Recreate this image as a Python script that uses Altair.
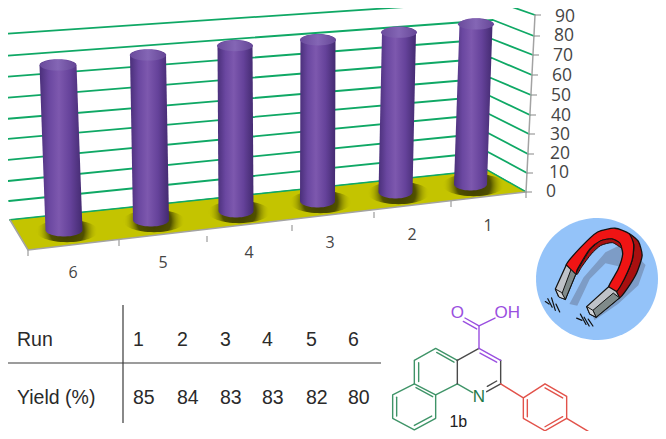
import altair as alt
import numpy as np
import pandas as pd

# ---- chart values
runs = [1, 2, 3, 4, 5, 6]
yields = [85, 84, 83, 83, 82, 80]
grid_values = [0, 10, 20, 30, 40, 50, 60, 70, 80, 90]

# ---- layout (perspective of the 3-D chart)
base_x = [470.5, 395.5, 317.5, 236, 151, 64]
base_y = [184, 192, 201, 211, 220, 230]
top_lean = [5.5, 3.5, 0.5, -1, -3, -6]
px_per_unit = [1.88, 1.90, 1.94, 1.99, 2.01, 2.06]
half_w = [16.5, 17, 17.5, 17.5, 18, 18.5]
label_x = [488, 412, 330, 249, 163, 73]
label_y = [226, 235, 243, 253, 263, 273]
tick_x = [526, 451, 374, 292, 207, 119, 28]
tick_y = [192, 201, 212, 225, 236, 240, 250]
grid_left_x = [10, 9, 8, 7, 6, 5, 4, 3, 2, 1]
grid_left_y = [220, 201, 181, 160, 139, 119, 98, 77, 56, 34]
grid_back_x = [487, 488, 488, 489, 490, 491, 492, 492, 493, 495]
grid_back_y = [170, 152, 133, 114, 96, 78, 58, 39, 20, 1]
grid_front_x = [526, 527, 528, 529, 530, 531, 532, 533, 534, 535]
grid_front_y = [192, 173, 154, 134, 115, 95, 75, 55, 36, 15]
ylab_x = [546, 549, 550, 550, 551, 551, 552, 553, 554, 555]
ylab_y = [192, 173, 154, 135, 116, 96, 76, 56, 36, 17]

table_x = [133, 177, 220, 262, 306, 348]

W, H = 650, 423
xs = alt.Scale(domain=[8, 658], range=[0, W])
ys = alt.Scale(domain=[8, 431], range=[0, H])
X = alt.X("x:Q", scale=xs, axis=None)
Y = alt.Y("y:Q", scale=ys, axis=None)
layers = []


def poly(pts, fill, stroke=None, sw=0.0, opacity=1.0, smooth=False):
    df = pd.DataFrame(pts, columns=["x", "y"])
    df["i"] = range(len(df))
    kw = dict(fill=fill, strokeWidth=sw, opacity=opacity, clip=False)
    if smooth:
        kw.update(interpolate="cardinal-closed", tension=0.35)
    else:
        kw.update(interpolate="linear-closed")
    kw["stroke"] = stroke if stroke else "transparent"
    layers.append(alt.Chart(df).mark_line(**kw).encode(x=X, y=Y, order="i:Q"))


def segs(seglist, color, sw, cap="round"):
    rows = []
    for k, s in enumerate(seglist):
        for j, (a, b) in enumerate(s):
            rows.append(dict(k=k, i=j, x=a, y=b))
    layers.append(
        alt.Chart(pd.DataFrame(rows))
        .mark_line(color=color, strokeWidth=sw, strokeCap=cap, strokeJoin="round", clip=False)
        .encode(x=X, y=Y, detail="k:N", order="i:Q")
    )


def texts(df, font, size, color, align="left"):
    kw = dict(font=font, fontSize=size, color=color, align=align, baseline="middle")
    layers.append(alt.Chart(df).mark_text(**kw).encode(x=X, y=Y, text="t:N"))


def ellipse(ry):
    return f"M-1,0A1,{ry},0,1,1,1,0A1,{ry},0,1,1,-1,0Z"


GREEN = "#0fa865"
GRAY = "#a3a3a3"
TXT = "#454545"

# ---- walls
segs(
    [[(a, b), (c, d), (e, f)] for a, b, c, d, e, f in zip(
        grid_left_x, grid_left_y, grid_back_x, grid_back_y, grid_front_x, grid_front_y)],
    GREEN, 1.8,
)
# ---- floor
poly([(10, 220), (487, 170), (526, 192), (28, 250)], "#c4c400")
segs([[(10, 220), (487, 170), (526, 192)]], GREEN, 1.2)
segs([[(10, 220), (28, 250), (526, 192)], [(526, 192), (535, 15)]], GRAY, 1.5)
segs([[(a, b), (a, b + 6)] for a, b in zip(tick_x, tick_y)], GRAY, 1.3, "butt")
segs([[(grid_front_x[i], grid_front_y[i]), (grid_front_x[i] + 6, grid_front_y[i])] for i in range(10)], GRAY, 1.3, "butt")

# ---- bars
shadow_df = pd.DataFrame({"x": np.array(base_x) + 3, "y": np.array(base_y) + 1})
layers.append(
    alt.Chart(shadow_df)
    .mark_point(
        shape=ellipse(0.36),
        size=62 ** 2,
        filled=True,
        opacity=1,
        clip=False,
        fill=alt.Gradient(
            gradient="radial",
            stops=[
                alt.GradientStop(color="rgba(50,50,0,0.95)", offset=0),
                alt.GradientStop(color="rgba(60,60,0,0.85)", offset=0.55),
                alt.GradientStop(color="rgba(196,196,0,0)", offset=1),
            ],
        ),
    )
    .encode(x=X, y=Y)
)
body_fill = alt.Gradient(
    gradient="linear", x1=0, x2=1, y1=0, y2=0,
    stops=[
        alt.GradientStop(color="#4a2f7a", offset=0),
        alt.GradientStop(color="#6a47a0", offset=0.22),
        alt.GradientStop(color="#7d58ae", offset=0.45),
        alt.GradientStop(color="#65429a", offset=0.72),
        alt.GradientStop(color="#432a70", offset=1),
    ],
)
caps = []
for r, v, bx, by, lean, k, hw in zip(runs, yields, base_x, base_y, top_lean, px_per_unit, half_w):
    tx = bx + lean
    ty = by - v * k
    t = np.linspace(0, np.pi, 24)
    arc = [(bx + hw * np.cos(a), by + 6.5 * np.sin(a)) for a in t]
    body = [(tx - hw, ty)] + [(tx + hw * np.cos(a), ty - 6 * np.sin(a)) for a in t[::-1]] + [(tx + hw, ty)] + arc
    poly(body, body_fill)
    caps.append(dict(x=tx, y=ty, hw=hw))
cap_df = pd.DataFrame(caps)
layers.append(
    alt.Chart(cap_df)
    .mark_point(shape=ellipse(0.3), filled=True, opacity=1, clip=False, size=36 ** 2,
                fill=alt.Gradient(gradient="linear", x1=0, x2=1, y1=0, y2=0, stops=[
                    alt.GradientStop(color="#6a4b9c", offset=0),
                    alt.GradientStop(color="#8466b5", offset=0.5),
                    alt.GradientStop(color="#654696", offset=1)]))
    .encode(x=X, y=Y)
)

# ---- axis labels
texts(pd.DataFrame({"x": ylab_x, "y": ylab_y, "t": [str(v) for v in grid_values]}), "Open Sans", 17.5, TXT)
texts(pd.DataFrame({"x": label_x, "y": label_y, "t": [str(r) for r in runs]}), "Open Sans", 16, TXT, "center")

# ---- table
segs([[(6, 363), (381, 363)], [(123, 305), (123, 423)]], "#3a3a3a", 1.2, "butt")
AR = "Liberation Sans"
texts(pd.DataFrame({"x": [17], "y": [340], "t": ["Run"]}), AR, 19.5, "#2a2a2a")
texts(pd.DataFrame({"x": [17], "y": [398], "t": ["Yield (%)"]}), AR, 19.5, "#2a2a2a")
texts(pd.DataFrame({"x": table_x, "y": [340] * 6, "t": [str(r) for r in runs]}), AR, 19.5, "#2a2a2a")
texts(pd.DataFrame({"x": table_x, "y": [398] * 6, "t": [str(v) for v in yields]}), AR, 19.5, "#2a2a2a")


# ---- structure 1b (squeezed very slightly in height so that it stays on the page)
def C(pts):
    return [(380 + a / 3, 313 + (290 + b / 3 - 313) * 0.94) for a, b in pts]


LG = "#3f9468"
PU = "#9a4fe0"
RD = "#e2524a"
DK = "#4a4a4a"
segs([C(s) for s in [
    [(103, 295), (38, 330), (38, 405), (103, 442), (167, 405), (167, 330), (103, 295)],
    [(103, 295), (103, 220), (167, 182), (232, 220)],
    [(167, 330), (232, 295)],
    [(50, 338), (50, 398)], [(103, 428), (155, 398)], [(108, 307), (158, 336)],
    [(116, 228), (116, 288)], [(170, 195), (222, 226)], [(232, 295), (278, 323)],
]], LG, 1.4)
segs([C(s) for s in [[(232, 220), (297, 182)], [(232, 220), (232, 295)], [(362, 220), (362, 295)],
                     [(362, 295), (320, 320)], [(350, 286), (322, 303)]]], DK, 1.4)
segs([C(s) for s in [
    [(297, 182), (362, 220)], [(300, 197), (350, 226)],
    [(297, 182), (297, 110), (345, 85)], [(297, 110), (255, 85)], [(290, 120), (250, 96)],
]], PU, 1.4)
segs([C(s) for s in [
    [(362, 295), (430, 340), (495, 295), (560, 335), (560, 405), (495, 445), (430, 405), (430, 340)],
    [(495, 308), (548, 340)], [(442, 346), (442, 400)], [(495, 432), (548, 400)], [(560, 405), (625, 447)],
]], RD, 1.4)
px, py = zip(*C([(232, 70)]))
texts(pd.DataFrame({"x": px, "y": py, "t": ["O"]}), AR, 17, PU, "center")
px, py = zip(*C([(382, 70)]))
texts(pd.DataFrame({"x": px, "y": py, "t": ["OH"]}), AR, 17, PU, "center")
px, py = zip(*C([(297, 337)]))
texts(pd.DataFrame({"x": px, "y": py, "t": ["N"]}), AR, 17, "#1f7a4a", "center")
px, py = zip(*C([(235, 418)]))
texts(pd.DataFrame({"x": px, "y": py, "t": ["1b"]}), AR, 16, "#222222", "center")


# ---- magnet badge (a little smaller than in the reference so the disc stays on the page)
def M(pts):
    return [(597 + (530 + a / 3 - 601) * 0.94, 279 + (200 + b / 3 - 280) * 0.94) for a, b in pts]


t = np.linspace(0, 2 * np.pi, 90)
poly([(597 + 61 * np.cos(a), 279 + 61 * np.sin(a)) for a in t], "#94c3f9")
poly(M([(125, 320), (170, 235), (240, 155), (300, 125), (368, 195), (345, 260), (280, 320), (205, 372), (195, 345),
        (260, 270), (285, 200), (240, 190), (190, 240), (150, 325)]), "#7d9cc6")
poly(M([(315, 95), (345, 120), (357, 165), (340, 220), (310, 270), (285, 300), (275, 280), (300, 240), (325, 180), (330, 130)]), "#a81010", "#111111", 1.3, smooth=True)
poly(M([(115, 195), (160, 140), (215, 90), (270, 78), (315, 95), (330, 130), (325, 180), (300, 240), (275, 280), (250, 265),
        (280, 210), (295, 160), (285, 125), (260, 112), (225, 118), (190, 145), (150, 210), (145, 225)]), "#f01414", "#111111", 1.3, smooth=True)
poly(M([(150, 215), (190, 148), (225, 118), (260, 112), (285, 125), (290, 140), (262, 124), (225, 133), (195, 160), (165, 200), (150, 225)]), "#a81010", "#111111", 1.0, smooth=True)
poly(M([(115, 195), (145, 225), (112, 305), (90, 295), (80, 272)]), "#bfc2c8", "#111111", 1.2)
poly(M([(130, 210), (145, 225), (112, 305), (100, 290)]), "#808a8a", "#111111", 1.0)
poly(M([(80, 272), (100, 283), (112, 305), (92, 298)]), "#d2d4d8", "#111111", 1.0)
poly(M([(250, 265), (275, 280), (285, 300), (210, 362), (190, 352), (180, 328)]), "#bfc2c8", "#111111", 1.2)
poly(M([(265, 285), (285, 300), (210, 362), (200, 340)]), "#808a8a", "#111111", 1.0)
poly(M([(180, 328), (200, 340), (210, 362), (190, 352)]), "#d2d4d8", "#111111", 1.0)
segs([M(s) for s in [
    [(48, 312), (60, 320)], [(56, 303), (70, 330)], [(68, 300), (80, 340)], [(82, 320), (94, 345)],
    [(148, 365), (165, 372)], [(160, 352), (178, 385)], [(172, 362), (188, 390)], [(185, 368), (200, 390)],
]], "#111111", 1.2)

chart = (
    alt.layer(*layers)
    .properties(width=W, height=H, padding=0, autosize="none", background="white")
    .configure_view(stroke=None)
)
chart.save("out.html", embed_options={"renderer": "svg", "actions": False})
